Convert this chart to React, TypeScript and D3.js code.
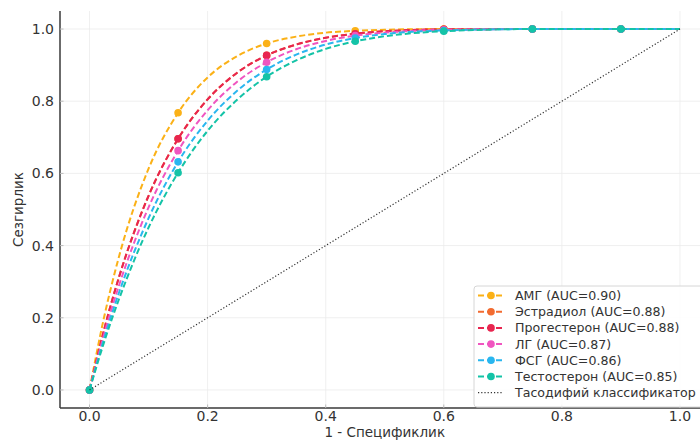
import React, { useEffect, useRef } from "react";
import * as d3 from "d3";

// --- Data ---
const fpr = [0, 0.025, 0.05, 0.1, 0.15, 0.2, 0.25, 0.3, 0.35, 0.4, 0.45, 0.5, 0.6, 0.75, 0.9, 1.0];
const markerFpr = [0, 0.15, 0.3, 0.45, 0.6, 0.75, 0.9];

const tprAmg = [0, 0.204, 0.37, 0.613, 0.768, 0.866, 0.925, 0.96, 0.979, 0.99, 0.995, 0.998, 1.0, 1.0, 1.0, 1.0];
const tprEstradiol = [0, 0.169, 0.313, 0.538, 0.696, 0.805, 0.879, 0.927, 0.957, 0.976, 0.987, 0.994, 0.999, 1.0, 1.0, 1.0];
const tprProgesterone = [0, 0.169, 0.313, 0.538, 0.696, 0.805, 0.879, 0.927, 0.957, 0.976, 0.987, 0.994, 0.999, 1.0, 1.0, 1.0];
const tprLh = [0, 0.156, 0.29, 0.506, 0.663, 0.775, 0.854, 0.908, 0.944, 0.967, 0.982, 0.99, 0.998, 1.0, 1.0, 1.0];
const tprFsh = [0, 0.144, 0.27, 0.476, 0.632, 0.746, 0.829, 0.888, 0.929, 0.957, 0.975, 0.986, 0.996, 1.0, 1.0, 1.0];
const tprTestosterone = [0, 0.134, 0.252, 0.45, 0.602, 0.718, 0.804, 0.868, 0.913, 0.945, 0.966, 0.98, 0.994, 1.0, 1.0, 1.0];

const seriesNames = [
  "АМГ (AUC=0.90)",
  "Эстрадиол (AUC=0.88)",
  "Прогестерон (AUC=0.88)",
  "ЛГ (AUC=0.87)",
  "ФСГ (AUC=0.86)",
  "Тестостерон (AUC=0.85)",
];
const seriesValues = [tprAmg, tprEstradiol, tprProgesterone, tprLh, tprFsh, tprTestosterone];
const seriesColors = ["#fbb117", "#f26b30", "#e8254f", "#f055c0", "#29b6ef", "#14c3a7"];
const diagonalName = "Тасодифий классификатор";
const tickValues = [0, 0.2, 0.4, 0.6, 0.8, 1.0];

export default function App() {
  const svgRef = useRef<SVGSVGElement | null>(null);

  useEffect(() => {
    const width = 700;
    const height = 440;
    const svg = d3.select(svgRef.current).attr("width", width).attr("height", height);
    svg.selectAll("*").remove();

    const font = "'DejaVu Sans', sans-serif";
    const x = d3.scaleLinear().domain([-0.05, 1.05]).range([60, 709.5]);
    const y = d3.scaleLinear().domain([-0.05, 1.05]).range([408, 11]);
    const [x0, x1] = x.range();
    const [y0, y1] = y.range();

    svg.append("rect").attr("width", width).attr("height", height).attr("fill", "white");

    // --- Grid ---
    const grid = svg.append("g");
    grid.selectAll(".gx").data(tickValues).join("line")
      .attr("x1", d => x(d)).attr("x2", d => x(d))
      .attr("y1", y0).attr("y2", y1)
      .attr("stroke", "#ebebeb").attr("stroke-width", 0.8);
    grid.selectAll(".gy").data(tickValues).join("line")
      .attr("y1", d => y(d)).attr("y2", d => y(d))
      .attr("x1", x0).attr("x2", x1)
      .attr("stroke", "#ebebeb").attr("stroke-width", 0.8);

    // --- Curves ---
    const line = d3.line<number>()
      .x((d, i) => x(fpr[i]))
      .y(d => y(d))
      .curve(d3.curveMonotoneX);

    seriesValues.forEach((vals, si) => {
      svg.append("path")
        .attr("d", line(vals))
        .attr("fill", "none")
        .attr("stroke", seriesColors[si])
        .attr("stroke-width", 2)
        .attr("stroke-dasharray", "6,3");
      const pts = markerFpr.map(m => [m, vals[fpr.indexOf(m)]]);
      svg.append("g").selectAll("circle").data(pts).join("circle")
        .attr("cx", d => x(d[0]))
        .attr("cy", d => y(d[1]))
        .attr("r", 3.8)
        .attr("fill", seriesColors[si]);
    });

    // --- Random classifier ---
    svg.append("line")
      .attr("x1", x(0)).attr("y1", y(0))
      .attr("x2", x(1)).attr("y2", y(1))
      .attr("stroke", "#333").attr("stroke-width", 1.2)
      .attr("stroke-dasharray", "1.2,2");

    // --- Axes (left + bottom spines, inward ticks) ---
    const axisColor = "#3a3a3a";
    svg.append("line").attr("x1", x0).attr("x2", x1).attr("y1", y0).attr("y2", y0)
      .attr("stroke", axisColor).attr("stroke-width", 1.5);
    svg.append("line").attr("x1", x0).attr("x2", x0).attr("y1", y0).attr("y2", y1)
      .attr("stroke", axisColor).attr("stroke-width", 1.5);

    svg.append("g").selectAll("line").data(tickValues).join("line")
      .attr("x1", d => x(d)).attr("x2", d => x(d))
      .attr("y1", y0).attr("y2", y0 - 3.5)
      .attr("stroke", "#bbb").attr("stroke-width", 1);
    svg.append("g").selectAll("line").data(tickValues).join("line")
      .attr("y1", d => y(d)).attr("y2", d => y(d))
      .attr("x1", x0).attr("x2", x0 + 3.5)
      .attr("stroke", "#bbb").attr("stroke-width", 1);

    const fmt = d3.format(".1f");
    svg.append("g").selectAll("text").data(tickValues).join("text")
      .attr("x", d => x(d)).attr("y", 420.5)
      .attr("text-anchor", "middle")
      .attr("font-family", font).attr("font-size", 14).attr("fill", "#333")
      .text(d => fmt(d));
    svg.append("g").selectAll("text").data(tickValues).join("text")
      .attr("x", x0 - 6).attr("y", d => y(d) + 5)
      .attr("text-anchor", "end")
      .attr("font-family", font).attr("font-size", 14).attr("fill", "#333")
      .text(d => fmt(d));

    svg.append("text")
      .attr("x", (x0 + x1) / 2).attr("y", 437)
      .attr("text-anchor", "middle")
      .attr("font-family", font).attr("font-size", 13.5).attr("fill", "#333")
      .text("1 - Спецификлик");
    svg.append("text")
      .attr("transform", `translate(23,${(y0 + y1) / 2}) rotate(-90)`)
      .attr("text-anchor", "middle")
      .attr("font-family", font).attr("font-size", 13.5).attr("fill", "#333")
      .text("Сезгирлик");

    // --- Legend ---
    const lg = svg.append("g").attr("transform", "translate(474,286)");
    lg.append("rect")
      .attr("width", 240).attr("height", 121)
      .attr("rx", 3)
      .attr("fill", "white").attr("fill-opacity", 0.85)
      .attr("stroke", "#d6d6d6").attr("stroke-width", 1);
    const rowH = 16.2;
    seriesNames.forEach((name, i) => {
      const cy = 9.5 + i * rowH;
      lg.append("line")
        .attr("x1", 4).attr("x2", 29).attr("y1", cy).attr("y2", cy)
        .attr("stroke", seriesColors[i]).attr("stroke-width", 2)
        .attr("stroke-dasharray", "6,3");
      lg.append("circle").attr("cx", 17).attr("cy", cy).attr("r", 3.8).attr("fill", seriesColors[i]);
      lg.append("text")
        .attr("x", 41).attr("y", cy + 4.5)
        .attr("font-family", font).attr("font-size", 12.6).attr("fill", "#333")
        .text(name);
    });
    const dy = 9.5 + 6 * rowH;
    lg.append("line")
      .attr("x1", 4).attr("x2", 29).attr("y1", dy).attr("y2", dy)
      .attr("stroke", "#333").attr("stroke-width", 1.2)
      .attr("stroke-dasharray", "1.2,2");
    lg.append("text")
      .attr("x", 41).attr("y", dy + 4.5)
      .attr("font-family", font).attr("font-size", 12.6).attr("fill", "#333")
      .text(diagonalName);
  }, []);

  return <svg ref={svgRef} style={{ position: "absolute", left: 0, top: 0, display: "block" }}></svg>;
}
